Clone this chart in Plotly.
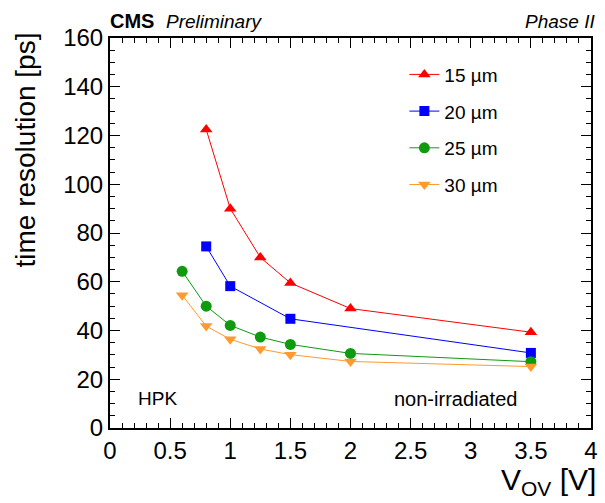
import plotly.graph_objects as go

# Time resolution vs over-voltage for HPK sensors of different thickness
x_15 = [0.8, 1.0, 1.25, 1.5, 2.0, 3.5]
y_15 = [122.5, 90.0, 70.0, 59.5, 49.0, 39.3]

x_20 = [0.8, 1.0, 1.5, 3.5]
y_20 = [74.5, 58.2, 44.8, 30.8]

x_25 = [0.6, 0.8, 1.0, 1.25, 1.5, 2.0, 3.5]
y_25 = [64.3, 50.0, 42.1, 37.3, 34.3, 30.6, 27.2]

x_30 = [0.6, 0.8, 1.0, 1.25, 1.5, 2.0, 3.5]
y_30 = [54.5, 41.8, 36.4, 32.4, 30.1, 27.3, 25.2]

series_names = ["15 \u00b5m", "20 \u00b5m", "25 \u00b5m", "30 \u00b5m"]
colors = ["#ff0000", "#0000ff", "#109a10", "#ff9a30"]
symbols = ["triangle-up", "square", "circle", "triangle-down"]
sizes = [11, 10, 11, 11]

FONT = "Liberation Sans, Arial, Helvetica, sans-serif"

fig = go.Figure()
for i, (xs, ys) in enumerate([(x_15, y_15), (x_20, y_20), (x_25, y_25), (x_30, y_30)]):
    fig.add_trace(go.Scatter(
        x=xs, y=ys, mode="lines+markers", name=series_names[i],
        legendgroup=f"g{i}",
        line=dict(color=colors[i], width=1),
        marker=dict(symbol=symbols[i], size=sizes[i], color=colors[i],
                    line=dict(width=0)),
    ))

axis_common = dict(
    showgrid=False, zeroline=False, showline=True, linecolor="black",
    linewidth=2, mirror="ticks", ticks="inside", tickcolor="black",
    tickwidth=1, ticklen=10,
    tickfont=dict(family=FONT, size=24, color="black"),
)

fig.update_xaxes(range=[0, 4], dtick=0.5, tick0=0,
                 minor=dict(dtick=0.1, ticks="inside", ticklen=5,
                            tickcolor="black", tickwidth=1),
                 **axis_common)
fig.update_yaxes(range=[0, 160], dtick=20, tick0=0,
                 minor=dict(dtick=5, ticks="inside", ticklen=5,
                            tickcolor="black", tickwidth=1),
                 **axis_common)

annotations = [
    dict(text="<b>CMS</b>", x=-0.004, y=1.01, xref="paper", yref="paper",
         xanchor="left", yanchor="bottom", showarrow=False,
         font=dict(family=FONT, size=20, color="black")),
    dict(text="<i>Preliminary</i>", x=0.113, y=1.01, xref="paper", yref="paper",
         xanchor="left", yanchor="bottom", showarrow=False,
         font=dict(family=FONT, size=19, color="black")),
    dict(text="<i>Phase II</i>", x=1.012, y=1.01, xref="paper", yref="paper",
         xanchor="right", yanchor="bottom", showarrow=False,
         font=dict(family=FONT, size=19, color="black")),
    dict(text="HPK", x=0.055, y=0.075, xref="paper", yref="paper",
         xanchor="left", yanchor="middle", showarrow=False,
         font=dict(family=FONT, size=19, color="black")),
    dict(text="non-irradiated", x=0.85, y=0.075, xref="paper", yref="paper",
         xanchor="right", yanchor="middle", showarrow=False,
         font=dict(family=FONT, size=20, color="black")),
    dict(text="time resolution [ps]", x=-0.175, y=1.02, xref="paper",
         yref="paper", xanchor="center", yanchor="top", textangle=-90,
         showarrow=False, font=dict(family=FONT, size=28, color="black")),
    dict(text="V<sub>OV</sub> [V]", x=1.012, y=-0.088, xref="paper",
         yref="paper", xanchor="right", yanchor="top", showarrow=False,
         borderpad=0,
         font=dict(family=FONT, size=30, color="black")),
]

fig.update_layout(
    width=605, height=503,
    margin=dict(l=110, r=7, t=38, b=75),
    paper_bgcolor="white", plot_bgcolor="white",
    showlegend=True,
    legend=dict(x=0.612, y=0.955, xanchor="left", yanchor="top",
                bgcolor="rgba(0,0,0,0)", tracegroupgap=9,
                font=dict(family=FONT, size=19, color="black")),
    annotations=annotations,
)

fig.write_html("out.html")
